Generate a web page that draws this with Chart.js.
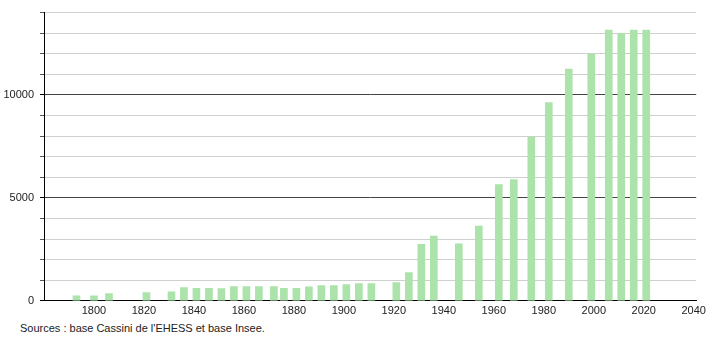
<!DOCTYPE html>
<html lang="fr">
<head>
<meta charset="UTF-8">
<script src="https://cdn.jsdelivr.net/npm/chart.js@4.4.0/dist/chart.umd.min.js"></script>
<title>Population</title>
<style>
  body { margin: 0; background: #fff; font-family: "Liberation Sans", Arial, sans-serif; }
  .wrap { position: relative; width: 710px; height: 322px; }
  .source { position: absolute; left: 20px; top: 322px; font-size: 11px; color: #222; }
</style>
</head>
<body>
<div class="wrap"><canvas id="chart"></canvas></div>
<div class="source">Sources : base Cassini de l'EHESS et base Insee.</div>
<script>
// census years and population
var years = [1793, 1800, 1806, 1821, 1831, 1836, 1841, 1846, 1851, 1856, 1861, 1866, 1872, 1876,
             1881, 1886, 1891, 1896, 1901, 1906, 1911, 1921, 1926, 1931, 1936, 1946, 1954, 1962,
             1968, 1975, 1982, 1990, 1999, 2006, 2011, 2016, 2021];
var population = [240, 240, 350, 400, 430, 640, 610, 610, 590, 690, 690, 690, 690, 610,
                  610, 680, 740, 740, 790, 840, 840, 880, 1370, 2740, 3140, 2770, 3630, 5650,
                  5890, 7950, 9630, 11260, 11990, 13150, 12990, 13150, 13150];
var xTicks = [1800, 1820, 1840, 1860, 1880, 1900, 1920, 1940, 1960, 1980, 2000, 2020, 2040];
var yTicks = [0, 5000, 10000];

var points = years.map((y, i) => ({ x: y, y: population[i] }));

var ctx = document.getElementById('chart').getContext('2d');
new Chart(ctx, {
  type: 'bar',
  data: {
    datasets: [{
      data: points,
      backgroundColor: '#abe3ab',
      barThickness: 7
    }]
  },
  options: {
    responsive: true,
    maintainAspectRatio: false,
    animation: false,
    layout: { padding: { top: 8, right: 11, left: 0, bottom: 0 } },
    plugins: { legend: { display: false }, tooltip: { enabled: false } },
    scales: {
      x: {
        type: 'linear',
        offset: false,
        min: 1780,
        max: 2041,
        afterBuildTicks: s => { s.ticks = xTicks.map(v => ({ value: v })); },
        grid: { display: false, drawTicks: false, offset: false },
        border: { color: '#000', width: 1 },
        ticks: {
          color: '#222', font: { size: 11, family: 'Liberation Sans' }, padding: 4, maxRotation: 0,
          callback: v => String(v)
        }
      },
      y: {
        min: 0,
        max: 14000,
        afterFit: s => { s.width = 44; },
        ticks: {
          stepSize: 1000,
          color: '#222',
          font: { size: 11, family: 'Liberation Sans' },
          padding: 6,
          callback: v => yTicks.includes(v) ? String(v) : ''
        },
        grid: {
          color: c => (c.tick && c.tick.value % 5000 === 0 && c.tick.value > 0) ? '#444' : '#cfcfcf',
          tickLength: 4,
          tickColor: c => (c.tick && c.tick.value % 5000 === 0) ? '#000' : '#555'
        },
        border: { color: '#000', width: 1 }
      }
    }
  }
});
</script>
</body>
</html>
